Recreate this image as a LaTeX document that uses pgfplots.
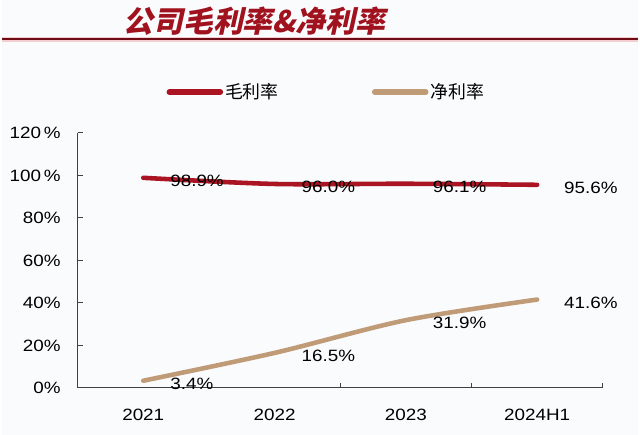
\documentclass[border=0pt]{standalone}
\usepackage{fontspec}
\usepackage{pgfplots}
\pgfplotsset{compat=1.18}
\setmainfont{Liberation Sans}[FakeStretch=1.15]
\newfontfamily\cjk{Noto Sans CJK SC}
\newfontfamily\titlefont{Noto Sans CJK SC}[FakeSlant=0.22]
\definecolor{gross}{RGB}{170,20,35}
\definecolor{net}{RGB}{192,155,120}
\definecolor{titlered}{RGB}{160,18,30}
\definecolor{axisgray}{RGB}{64,64,64}
\definecolor{bg}{RGB}{250,251,253}
\definecolor{rulepink}{RGB}{244,205,208}
\definecolor{ruledark}{RGB}{110,12,22}

\begin{document}
\begin{tikzpicture}
% page background and heading
\fill[bg] (0pt,0pt) rectangle (640pt,-438pt);
\node[anchor=west, inner sep=0pt, text=titlered,
      font=\titlefont\bfseries\fontsize{30}{30}\selectfont]
  at (122pt,-21pt) {公司毛利率\&净利率};
\draw[line width=5pt, rulepink] (0pt,-39.5pt) -- (640pt,-39.5pt);
\draw[line width=1.6pt, ruledark] (0pt,-39.5pt) -- (640pt,-39.5pt);

\begin{axis}[
  at={(75.7pt,-391pt)}, anchor=south west,
  scale only axis, width=529.3pt, height=257pt,
  xmin=-0.5, xmax=3.5, ymin=0, ymax=120,
  clip=false,
  axis x line*=bottom, axis y line*=left,
  axis line style={axisgray, line width=1pt, -},
  xtick={0,1,2,3}, xticklabels={2021,2022,2023,2024H1},
  minor xtick={1.5,2.5,3.5},
  ytick={0,20,...,120},
  yticklabels={0\%,20\%,40\%,60\%,80\%,100\,\%,120\,\%},
  tick align=inside,
  major tick length=5pt, minor tick length=5pt,
  tick style={axisgray, line width=1pt},
  major x tick style={draw=none},
  tick label style={font=\fontsize{16.5}{16.5}\selectfont, text=black, inner sep=0pt},
  yticklabel style={anchor=east, xshift=-17pt},
  xticklabel style={anchor=north, yshift=-21pt},
  /pgf/number format/assume math mode=true,
  legend style={at={(0.169,1.16)}, anchor=west, draw=none, fill=none,
    inner sep=0pt, legend columns=2,
    font=\cjk\fontsize{18}{18}\selectfont,
    /tikz/every even column/.append style={column sep=92pt}},
  legend image code/.code={\draw[#1, line width=5.5pt, line cap=round] (2.75pt,0pt) -- (54.25pt,0pt);},
  nodes near coords={\pgfmathprintnumber[fixed,fixed zerofill,precision=1]{\pgfplotspointmeta}\%},
  every node near coord/.append style={text=black, font=\fontsize{16.5}{16.5}\selectfont,
    anchor=west, inner sep=0pt, xshift=25pt, yshift=-3pt},
]
\addplot[gross, line width=4.6pt, smooth, line cap=round]
  coordinates {(0,98.9) (1,96.0) (2,96.1) (3,95.6)};
\addlegendentry{毛利率}
\addplot[net, line width=4.6pt, smooth, line cap=round]
  coordinates {(0,3.4) (1,16.5) (2,31.9) (3,41.6)};
\addlegendentry{净利率}
\end{axis}
\end{tikzpicture}
\end{document}
